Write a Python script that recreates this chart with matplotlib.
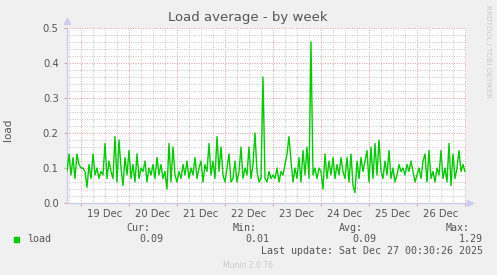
import matplotlib
matplotlib.use('Agg')
import matplotlib.pyplot as plt
import matplotlib.dates as mdates
import matplotlib.ticker as ticker
import pandas as pd

# hourly load, starting Dec 18 17:00
d18 = [0.09, 0.14, 0.08, 0.13, 0.07, 0.14, 0.11]
d19 = [0.10, 0.10, 0.09, 0.045, 0.11, 0.07, 0.14, 0.08, 0.10, 0.07, 0.09, 0.08,
       0.17, 0.07, 0.12, 0.09, 0.07, 0.19, 0.06, 0.18, 0.10, 0.05, 0.13, 0.08]
d20 = [0.15, 0.07, 0.11, 0.06, 0.14, 0.07, 0.10, 0.09, 0.12, 0.06, 0.10, 0.08,
       0.11, 0.07, 0.13, 0.08, 0.11, 0.07, 0.09, 0.04, 0.17, 0.06, 0.16, 0.08]
d21 = [0.06, 0.09, 0.07, 0.11, 0.08, 0.12, 0.07, 0.10, 0.08, 0.13, 0.07, 0.10,
       0.12, 0.06, 0.11, 0.09, 0.17, 0.08, 0.12, 0.07, 0.19, 0.09, 0.16, 0.08]
d22 = [0.06, 0.10, 0.14, 0.06, 0.07, 0.12, 0.06, 0.09, 0.16, 0.07, 0.10, 0.08,
       0.16, 0.07, 0.11, 0.20, 0.09, 0.06, 0.07, 0.36, 0.07, 0.06, 0.09, 0.07]
d23 = [0.08, 0.07, 0.10, 0.06, 0.09, 0.08, 0.11, 0.14, 0.19, 0.12, 0.06, 0.10,
       0.07, 0.13, 0.06, 0.15, 0.08, 0.16, 0.07, 0.46, 0.08, 0.10, 0.07, 0.10]
d24 = [0.09, 0.04, 0.14, 0.07, 0.12, 0.08, 0.13, 0.07, 0.11, 0.08, 0.13, 0.09,
       0.07, 0.13, 0.06, 0.14, 0.05, 0.03, 0.12, 0.07, 0.13, 0.09, 0.12, 0.15]
d25 = [0.06, 0.16, 0.07, 0.17, 0.08, 0.18, 0.09, 0.07, 0.12, 0.08, 0.15, 0.07,
       0.10, 0.06, 0.08, 0.11, 0.09, 0.10, 0.08, 0.11, 0.09, 0.12, 0.09, 0.06]
d26 = [0.08, 0.10, 0.07, 0.12, 0.14, 0.06, 0.15, 0.07, 0.09, 0.06, 0.10, 0.08,
       0.15, 0.07, 0.10, 0.06, 0.17, 0.05, 0.14, 0.07, 0.10, 0.15, 0.09, 0.11]
d27 = [0.09]

load = d18 + d19 + d20 + d21 + d22 + d23 + d24 + d25 + d26 + d27
times = pd.date_range('2025-12-18 17:00', periods=len(load), freq='h')

legend_names = ['Cur:', 'Min:', 'Avg:', 'Max:']
legend_vals = ['0.09', '0.01', '0.09', '1.29']

BG = '#F0F0F0'
TXT = '#555555'
GREEN = '#00CC00'
MAJ = '#E39B9B'
MIN = '#C4C4C4'
AX = '#CCCCEE'

W, H = 497, 275
fig = plt.figure(figsize=(W / 100, H / 100), dpi=100, facecolor=BG)
ax = fig.add_axes([67 / W, 1 - 203 / H, 399 / W, 175 / H])
ax.set_facecolor('white')

t0 = pd.Timestamp('2025-12-18 17:00')
t1 = pd.Timestamp('2025-12-27 00:30')
ax.set_xlim(t0, t1)
ax.set_ylim(0, 0.5)

# grid
for t in pd.date_range('2025-12-18 18:00', t1, freq='6h'):
    c = MAJ if t.hour == 0 else MIN
    ax.axvline(t, color=c, lw=0.7, ls=(0, (1, 1.5)), zorder=1)
for i in range(1, 26):
    v = i * 0.02
    c = MAJ if i % 5 == 0 else MIN
    ax.axhline(v, color=c, lw=0.7, ls=(0, (1, 1.5)), zorder=1)

ax.plot(times, load, color=GREEN, lw=1.0, zorder=3)

for s in ['top', 'right']:
    ax.spines[s].set_visible(False)
for s in ['left', 'bottom']:
    ax.spines[s].set_color(AX)
    ax.spines[s].set_linewidth(1.0)
ax.plot([0], [1.04], marker='^', color=AX, ms=4, transform=ax.transAxes, clip_on=False)
ax.plot([1.01], [0], marker='>', color=AX, ms=4, transform=ax.transAxes, clip_on=False)

ax.xaxis.set_major_locator(mdates.DayLocator())
ax.xaxis.set_major_formatter(ticker.NullFormatter())
ax.xaxis.set_minor_locator(mdates.HourLocator(byhour=[12]))
ax.xaxis.set_minor_formatter(mdates.DateFormatter('%d %b'))
ax.tick_params(axis='x', which='major', length=2, color=MAJ)
ax.tick_params(axis='x', which='minor', length=0, pad=4, labelsize=7.2, labelcolor=TXT)
ax.yaxis.set_major_locator(ticker.MultipleLocator(0.1))
ax.yaxis.set_major_formatter(ticker.FormatStrFormatter('%.1f'))
ax.tick_params(axis='y', length=2, color=MAJ, pad=4, labelsize=7.2, labelcolor=TXT)

fig.text(248 / W, 1 - 18 / H, 'Load average - by week', ha='center', va='center',
         fontsize=9.5, color=TXT)
fig.text(8 / W, 1 - 130 / H, 'load', rotation=90, ha='center', va='center',
         fontsize=7.5, color=TXT)
fig.text(488 / W, 1 - 5 / H, 'RRDTOOL / TOBI OETIKER', rotation=270, ha='center',
         va='top', fontsize=5.2, color='#C8C8C8')

# legend block
mono = 'DejaVu Sans Mono'
fig.patches.append(plt.Rectangle((14 / W, 1 - 242 / H), 5 / W, 5 / H,
                                 transform=fig.transFigure, color=GREEN))
fig.text(27 / W, 1 - 239 / H, 'load', family=mono, fontsize=7.2, color=TXT, va='center')
name_x = [150, 257, 363, 470]
val_x = [163, 269, 376, 483]
for n, v, nx, vx in zip(legend_names, legend_vals, name_x, val_x):
    fig.text(nx / W, 1 - 228 / H, n, family=mono, fontsize=7.2, color=TXT,
             ha='right', va='center')
    fig.text(vx / W, 1 - 239 / H, v, family=mono, fontsize=7.2, color=TXT,
             ha='right', va='center')
fig.text(483 / W, 1 - 251 / H, 'Last update: Sat Dec 27 00:30:26 2025', family=mono,
         fontsize=7.2, color=TXT, ha='right', va='center')
fig.text(248 / W, 1 - 265 / H, 'Munin 2.0.76', fontsize=5.5, color='#C8C8C8',
         ha='center', va='center')

fig.savefig('out.png', dpi=100, facecolor=BG)
